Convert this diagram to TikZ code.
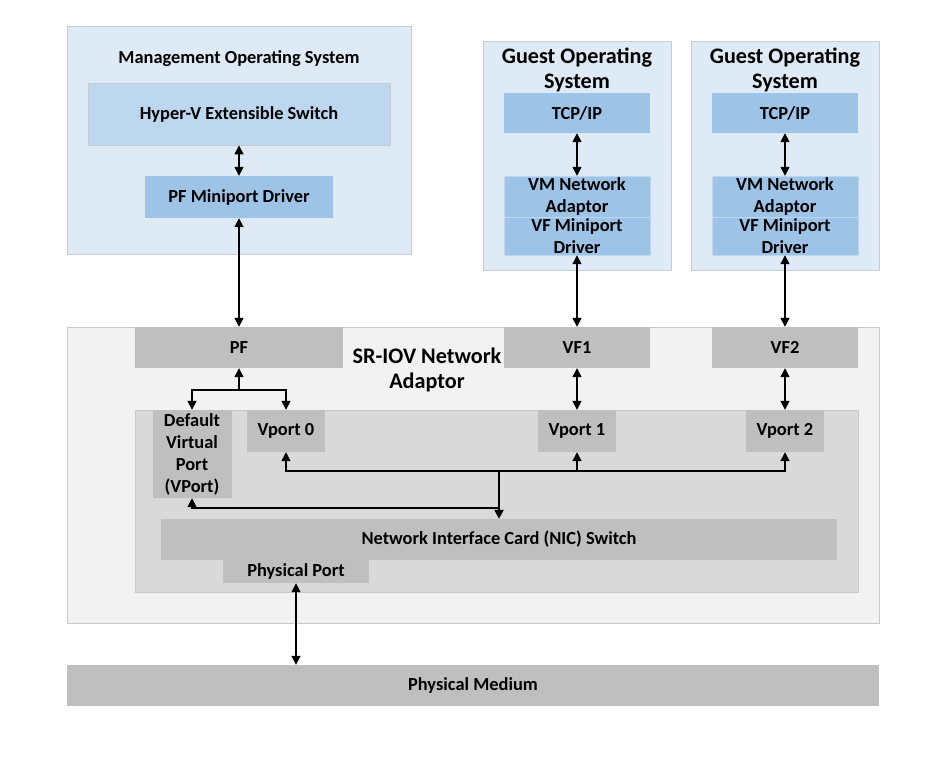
\documentclass[tikz,border=0pt]{standalone}
\usepackage{fontspec}
\setmainfont{Carlito}
\usepackage{xcolor}
\usepackage{tikz}
\usetikzlibrary{arrows.meta,positioning}

\definecolor{osfill}{HTML}{DEEBF7}
\definecolor{osline}{HTML}{C3CDD8}
\definecolor{swfill}{HTML}{BDD7EE}
\definecolor{drvfill}{HTML}{9DC3E6}
\definecolor{hwpale}{HTML}{F2F2F2}
\definecolor{hwmid}{HTML}{D9D9D9}
\definecolor{hwgrey}{HTML}{BFBFBF}
\definecolor{hwline}{HTML}{C8C8C8}

\begin{document}
\begin{tikzpicture}[x=1pt,y=-1pt,
  box/.style={inner sep=0pt, align=center, font=\bfseries\fontsize{18.4}{22}\selectfont},
  osbox/.style={box, fill=osfill, draw=osline, line width=0.8pt},
  swbox/.style={box, fill=swfill, draw=osline, line width=0.8pt},
  drvbox/.style={box, fill=drvfill},
  hwbox/.style={box, fill=hwgrey},
  bigtitle/.style={inner sep=0pt, align=center, font=\bfseries\fontsize{22.2}{25}\selectfont},
  link/.style={{Triangle[length=9pt,width=9pt]}-{Triangle[length=9pt,width=9pt]}, line width=1.5pt},
  feed/.style={-{Triangle[length=9pt,width=9pt]}, line width=1.5pt}]
\useasboundingbox (0,0) rectangle (945,756);

\node[osbox, minimum width=344, minimum height=228] (mgmtos) at (239,140) {};
\node[box] (mgmttitle) at (239,59) {Management Operating System};
\node[swbox, minimum width=302, minimum height=62] (hyperv) at (239,114) {Hyper-V Extensible Switch};
\node[drvbox, minimum width=188, minimum height=42] (pfdriver) at (239,197) {PF Miniport Driver};

\node[osbox, minimum width=188, minimum height=229] (guestA) at (577,155.5) {};
\node[bigtitle] (guestAtitle) at (577,69.5) {Guest Operating\\System};
\node[drvbox, minimum width=146, minimum height=40] (tcpA) at (577,113) {TCP/IP};
\node[drvbox, draw=swfill, minimum width=146, minimum height=41] (vmnicA) at (577,196.5) {VM Network\\Adaptor};
\node[drvbox, draw=swfill, minimum width=146, minimum height=38] (vfdriverA) at (577,236) {VF Miniport\\Driver};

\node[osbox, minimum width=188, minimum height=229] (guestB) at (785,155.5) {};
\node[bigtitle] (guestBtitle) at (785,69.5) {Guest Operating\\System};
\node[drvbox, minimum width=146, minimum height=40] (tcpB) at (785,113) {TCP/IP};
\node[drvbox, draw=swfill, minimum width=146, minimum height=41] (vmnicB) at (785,196.5) {VM Network\\Adaptor};
\node[drvbox, draw=swfill, minimum width=146, minimum height=38] (vfdriverB) at (785,236) {VF Miniport\\Driver};

\node[box, fill=hwpale, draw=hwline, line width=0.8pt, minimum width=812, minimum height=296] (sriov) at (473,475) {};
\node[bigtitle] (sriovtitle) at (427,370) {SR-IOV Network\\Adaptor};
\node[hwbox, minimum width=208, minimum height=41] (pf) at (239,347.5) {PF};
\node[hwbox, minimum width=146, minimum height=41] (vfA) at (577,347.5) {VF1};
\node[hwbox, minimum width=146, minimum height=41] (vfB) at (785,347.5) {VF2};

\node[box, fill=hwmid, draw=hwline, line width=0.8pt, minimum width=723, minimum height=182] (vswitch) at (496.5,501) {};
\node[hwbox, minimum width=79, minimum height=88] (dvport) at (192,454) {Default\\Virtual\\Port\\(VPort)};
\node[hwbox, minimum width=78, minimum height=42] (vport0) at (286,431) {Vport 0};
\node[hwbox, minimum width=78, minimum height=42] (vport1) at (577,431) {Vport 1};
\node[hwbox, minimum width=78, minimum height=42] (vport2) at (785,431) {Vport 2};
\node[hwbox, minimum width=676, minimum height=41] (nicswitch) at (499,539.5) {Network Interface Card (NIC) Switch};
\node[hwbox, minimum width=146, minimum height=23] (physport) at (296,571.5) {Physical Port};

\node[hwbox, minimum width=812, minimum height=41] (medium) at (473,685.5) {Physical Medium};

\draw[link] (hyperv.south) -- (pfdriver.north);
\draw[link] (pfdriver.south) -- (pf.north);
\draw[link] (tcpA.south) -- (vmnicA.north);
\draw[link] (vfdriverA.south) -- (vfA.north);
\draw[link] (tcpB.south) -- (vmnicB.north);
\draw[link] (vfdriverB.south) -- (vfB.north);
\draw[link] (vfA.south) -- (vport1.north);
\draw[link] (vfB.south) -- (vport2.north);

\coordinate (pfsplit) at (239,390);
\draw[feed] (pfsplit) -- (pf.south);
\draw[feed] (pfsplit) -| (dvport.north);
\draw[feed] (pfsplit) -| (vport0.north);

\coordinate (vportbus) at (499,471);
\coordinate (defbus) at (499,508);
\draw[feed] (vportbus) -| (vport0.south);
\draw[feed] (vportbus) -| (vport1.south);
\draw[feed] (vportbus) -| (vport2.south);
\draw[feed] (defbus) -| (dvport.south);
\draw[feed, line width=2.4pt] (vportbus) -- (nicswitch.north);

\draw[link] (physport.south) -- (physport.south |- medium.north);
\end{tikzpicture}
\end{document}
